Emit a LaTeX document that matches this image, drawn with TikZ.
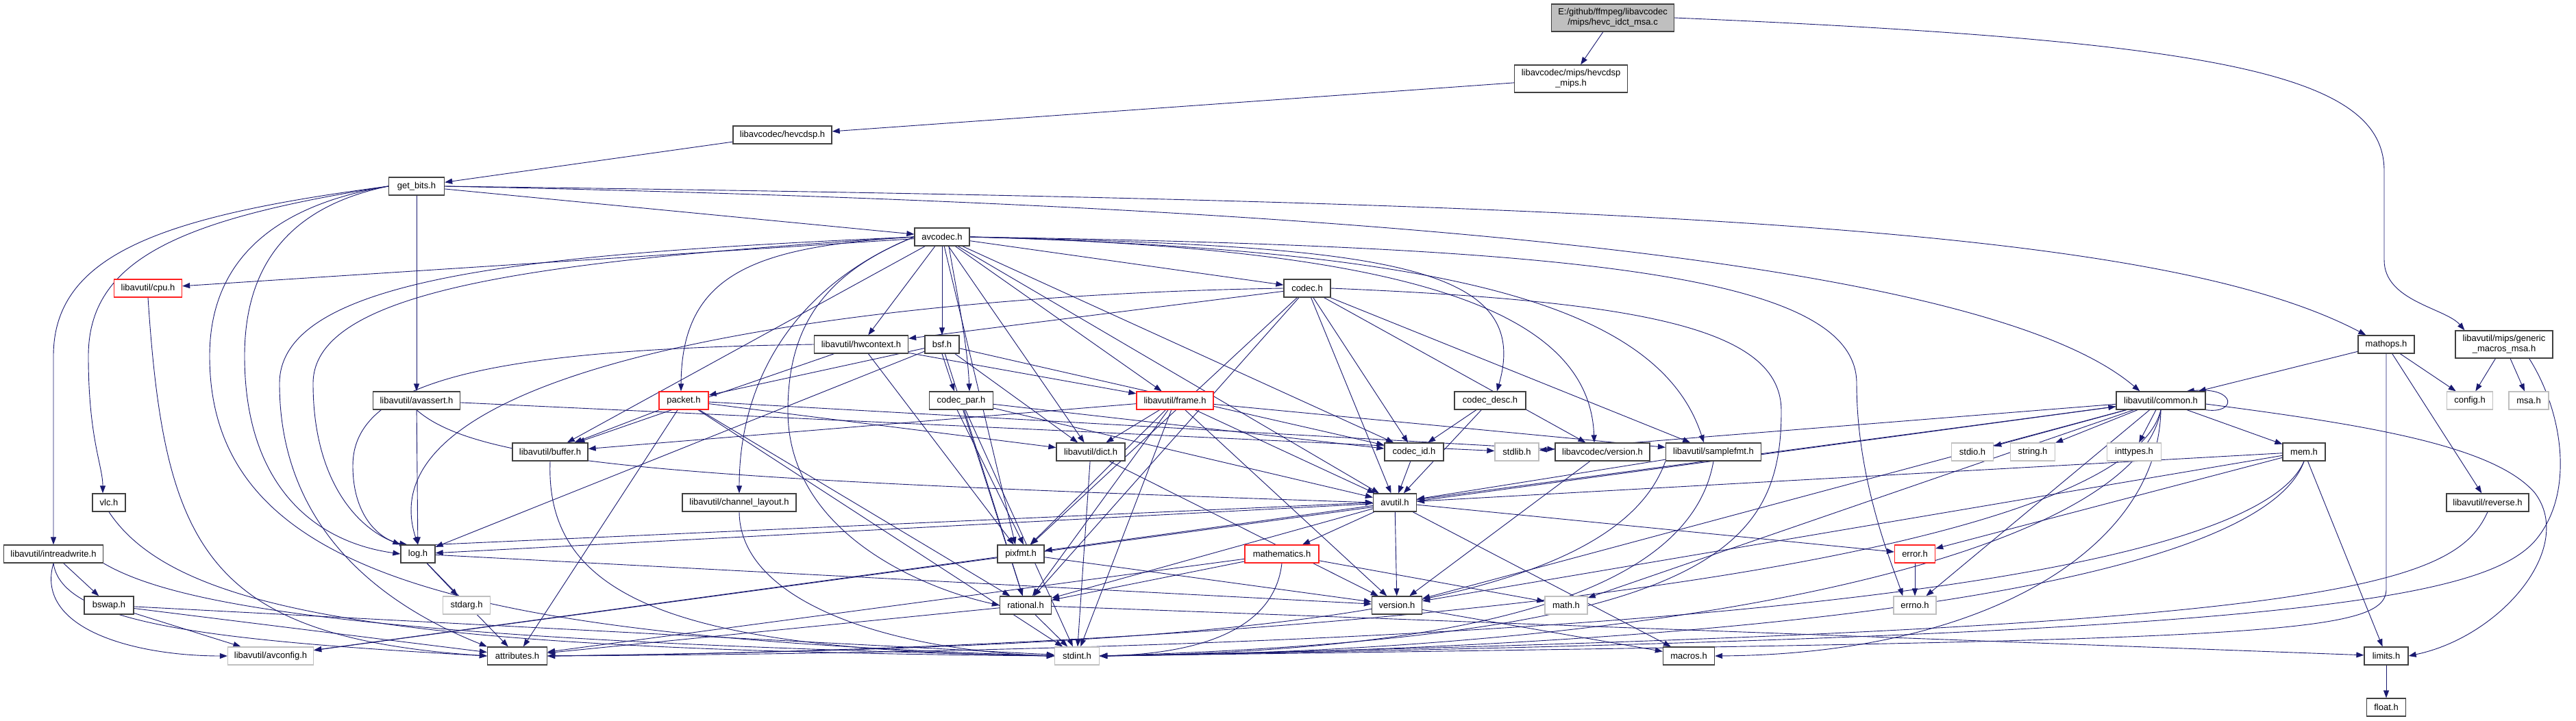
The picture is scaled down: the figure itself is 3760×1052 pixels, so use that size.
\documentclass[tikz,border=0pt]{standalone}
\usepackage{fontspec}
\setmainfont{Liberation Sans}
\usetikzlibrary{arrows.meta,backgrounds}
\definecolor{eblue}{HTML}{191970}
\definecolor{nbord}{HTML}{404040}
\definecolor{ngray}{HTML}{BFBFBF}
\definecolor{nred}{HTML}{FF2020}
\begin{document}
\begin{tikzpicture}[x=1pt,y=-1pt,
 nd/.style={draw=nbord, line width=1.3pt, fill=white, minimum height=26pt, inner sep=0pt, font=\fontsize{13pt}{15pt}\selectfont, align=center},
 nb/.style={nd},
 nr/.style={nd, draw=nred},
 ng/.style={nd, draw=ngray},
 nm/.style={nd, fill=ngray, minimum height=40pt},
 ed/.style={draw=eblue, line width=0.9pt, -{Triangle[length=11pt,width=8pt]}},
]
\useasboundingbox (0,0) rectangle (3760,1052);
% nodes
\node[nm, minimum width=179pt] (main) at (2354,26) {E:/github/ffmpeg/libavcodec\\/mips/hevc\_idct\_msa.c};
\node[nb, minimum width=165pt, minimum height=40pt] (hevcmips) at (2293,115) {libavcodec/mips/hevcdsp\\\_mips.h};
\node[nb, minimum width=144pt] (hevcdsp) at (1142,197) {libavcodec/hevcdsp.h};
\node[nb, minimum width=81pt] (getbits) at (608,272) {get\_bits.h};
\node[nb, minimum width=80pt] (avcodec) at (1375,346) {avcodec.h};
\node[nr, minimum width=99pt] (cpu) at (216,421) {libavutil/cpu.h};
\node[nb, minimum width=68pt] (codec) at (1908,421) {codec.h};
\node[nb, minimum width=137pt] (hwcontext) at (1257,503) {libavutil/hwcontext.h};
\node[nb, minimum width=50pt] (bsf) at (1375,503) {bsf.h};
\node[nb, minimum width=82pt] (mathops) at (3483,503) {mathops.h};
\node[nb, minimum width=142pt, minimum height=40pt] (gmsa) at (3655,503) {libavutil/mips/generic\\\_macros\_msa.h};
\node[nb, minimum width=127pt] (avassert) at (608,585) {libavutil/avassert.h};
\node[nr, minimum width=72pt] (packet) at (998,585) {packet.h};
\node[nb, minimum width=93pt] (codecpar) at (1403,585) {codec\_par.h};
\node[nr, minimum width=112pt] (frame) at (1715,585) {libavutil/frame.h};
\node[nb, minimum width=104pt] (codecdesc) at (2175,585) {codec\_desc.h};
\node[nb, minimum width=130pt] (common) at (3154,585) {libavutil/common.h};
\node[ng, minimum width=67pt] (config) at (3605,585) {config.h};
\node[ng, minimum width=58pt] (msa) at (3691,585) {msa.h};
\node[nb, minimum width=110pt] (buffer) at (803,660) {libavutil/buffer.h};
\node[nb, minimum width=100pt] (dict) at (1592,660) {libavutil/dict.h};
\node[nb, minimum width=86pt] (codecid) at (2064,660) {codec\_id.h};
\node[ng, minimum width=64pt] (stdlib) at (2214,660) {stdlib.h};
\node[nb, minimum width=138pt] (lavcversion) at (2339,660) {libavcodec/version.h};
\node[nb, minimum width=139pt] (samplefmt) at (2501,660) {libavutil/samplefmt.h};
\node[ng, minimum width=61pt] (stdio) at (2879,660) {stdio.h};
\node[ng, minimum width=65pt] (string) at (2967,660) {string.h};
\node[ng, minimum width=79pt] (inttypes) at (3115,660) {inttypes.h};
\node[nb, minimum width=62pt] (mem) at (3363,660) {mem.h};
\node[nb, minimum width=48pt] (vlc) at (159,734) {vlc.h};
\node[nb, minimum width=166pt] (channel) at (1079,734) {libavutil/channel\_layout.h};
\node[nb, minimum width=63pt] (avutil) at (2036,734) {avutil.h};
\node[nb, minimum width=120pt] (reverse) at (3631,734) {libavutil/reverse.h};
\node[nb, minimum width=145pt] (intreadwrite) at (78,809) {libavutil/intreadwrite.h};
\node[nb, minimum width=50pt] (log) at (610,809) {log.h};
\node[nb, minimum width=68pt] (pixfmt) at (1490,809) {pixfmt.h};
\node[nr, minimum width=108pt] (mathematics) at (1871,809) {mathematics.h};
\node[nr, minimum width=59pt] (error) at (2795,809) {error.h};
\node[nb, minimum width=72pt] (bswap) at (159,884) {bswap.h};
\node[ng, minimum width=69pt] (stdarg) at (681,884) {stdarg.h};
\node[nb, minimum width=75pt] (rational) at (1497,884) {rational.h};
\node[nb, minimum width=73pt] (version) at (2039,884) {version.h};
\node[ng, minimum width=62pt] (math) at (2286,884) {math.h};
\node[ng, minimum width=62pt] (errno) at (2795,884) {errno.h};
\node[ng, minimum width=125pt] (avconfig) at (395,958) {libavutil/avconfig.h};
\node[nb, minimum width=87pt] (attributes) at (755,958) {attributes.h};
\node[ng, minimum width=65pt] (stdint) at (1572,958) {stdint.h};
\node[nb, minimum width=75pt] (macros) at (2465,958) {macros.h};
\node[nb, minimum width=64pt] (limits) at (3483,958) {limits.h};
\node[nb, minimum width=57pt] (float) at (3483,1033) {float.h};

\begin{scope}[on background layer]
\fill[white] (0,0) rectangle (3760,1052);
% top
\draw[ed] (main) -- (hevcmips);
\draw[ed] (main.east) .. controls (3250,60) and (3480,110) .. (3480,250) -- (3480,380) .. controls (3480,440) and (3570,450) .. ([xshift=14pt]gmsa.north west);
\draw[ed] (hevcmips) -- (hevcdsp);
\draw[ed] (hevcdsp) -- (getbits);
% get_bits
\draw[ed] (getbits) -- (avcodec);
\draw[ed] (getbits.east) .. controls (2000,300) and (2900,380) .. ([xshift=35pt]common.north west);
\draw[ed] (getbits.east) .. controls (2400,295) and (3150,330) .. ([xshift=12pt]mathops.north west);
\draw[ed] (getbits) -- (avassert);
\draw[ed] (getbits.west) .. controls (260,320) and (129,380) .. (129,520) .. controls (129,640) and (150,680) .. ([xshift=-9pt]vlc.north);
\draw[ed] (getbits.west) .. controls (240,315) and (78,370) .. (78,520) -- (intreadwrite.north);
\draw[ed] (getbits.west) .. controls (400,300) and (306,380) .. (306,520) .. controls (306,850) and (700,930) .. (stdint.west);
\draw[ed] (getbits.west) .. controls (430,300) and (357,380) .. (357,520) .. controls (357,700) and (450,790) .. (log.west);
% avcodec
\draw[ed] (avcodec) -- (cpu);
\draw[ed] (avcodec.west) .. controls (800,380) and (457,420) .. (457,560) .. controls (457,700) and (520,770) .. (log.north west);
\draw[ed] (avcodec.west) .. controls (800,370) and (408,400) .. (408,560) .. controls (408,800) and (600,900) .. (attributes.north west);
\draw[ed] (avcodec) -- (buffer);
\draw[ed] (avcodec.west) .. controls (1170,412) and (1079,545) .. (channel.north);
\draw[ed] (avcodec.west) .. controls (1200,400) and (1150,480) .. (1150,600) .. controls (1150,780) and (1350,860) .. (rational.west);
\draw[ed] (avcodec) -- ([xshift=-8pt]pixfmt.north);
\draw[ed] (avcodec.east) .. controls (2300,360) and (2710,400) .. (2710,560) .. controls (2710,700) and (2760,820) .. ([xshift=14pt]errno.north west);
\draw[ed] (avcodec.east) .. controls (2000,360) and (2240,380) .. ([xshift=10pt]codecdesc.north);
\draw[ed] (avcodec.east) .. controls (2050,362) and (2320,450) .. ([xshift=-12pt]lavcversion.north);
\draw[ed] (avcodec.east) .. controls (2100,365) and (2420,440) .. ([xshift=-14pt]samplefmt.north);
\draw[ed] (avcodec) -- (avutil);
\draw[ed] (avcodec) -- (codec);
\draw[ed] (avcodec) -- (hwcontext);
\draw[ed] (avcodec) -- (bsf);
\draw[ed] ([xshift=10pt]avcodec.south) .. controls (1395,420) and (1412,500) .. ([xshift=12pt]codecpar.north);
\draw[ed] (avcodec) -- (dict);
\draw[ed] (avcodec) -- (frame);
\draw[ed] (avcodec.west) .. controls (1100,360) and (995,400) .. ([xshift=-4pt]packet.north);
\draw[ed] (avcodec) -- (codecid);
% codec
\draw[ed] (codec.east) .. controls (2400,440) and (2600,480) .. (2600,600) .. controls (2600,800) and (2500,930) .. (stdint.east);
\draw[ed] (codec) -- (avutil);
\draw[ed] (codec) -- (hwcontext);
\draw[ed] (codec.west) .. controls (1300,430) and (520,520) .. (log.north);
\draw[ed] (codec) -- (pixfmt);
\draw[ed] (codec) -- (rational);
\draw[ed] (codec) -- (samplefmt);
\draw[ed] (codec) -- (codecid);
\draw[ed] (codec) -- (lavcversion);
% codec_desc, codec_id
\draw[ed] (codecdesc) -- (avutil);
\draw[ed] (codecdesc) -- (codecid);
\draw[ed] (codecid) -- (avutil);
% codec_par
\draw[ed] (codecpar) -- (stdint);
\draw[ed] (codecpar) -- (avutil);
\draw[ed] (codecpar) -- (rational);
\draw[ed] ([xshift=-6pt]codecpar.south) -- ([xshift=4pt]pixfmt.north);
\draw[ed] (codecpar) -- (codecid);
% bsf
\draw[ed] (bsf) -- (dict);
\draw[ed] (bsf) -- (log);
\draw[ed] (bsf) -- (rational);
\draw[ed] (bsf) -- (codecid);
\draw[ed] (bsf.south) -- ([xshift=-10pt]codecpar.north);
\draw[ed] (bsf) -- (packet);
% packet
\draw[ed] (packet) -- (stdint);
\draw[ed] (packet) -- (attributes);
\draw[ed] (packet) -- (buffer);
\draw[ed] (packet) -- (dict);
\draw[ed] (packet) -- (rational);
\draw[ed] (packet) -- (lavcversion);
% hwcontext
\draw[ed] (hwcontext) -- (buffer);
\draw[ed] (hwcontext) -- (frame);
\draw[ed] (hwcontext.west) .. controls (700,510) and (515,560) .. (515,680) .. controls (515,760) and (560,790) .. ([xshift=10pt]log.north west);
\draw[ed] (hwcontext) -- (pixfmt);
% frame
\draw[ed] (frame) -- (stdint);
\draw[ed] (frame) -- (avutil);
\draw[ed] (frame) -- (buffer);
\draw[ed] (frame) -- (dict);
\draw[ed] (frame) -- (rational);
\draw[ed] (frame) -- (samplefmt);
\draw[ed] (frame) -- (pixfmt);
\draw[ed] (frame) -- (version);
% dict, buffer
\draw[ed] (dict) -- (stdint);
\draw[ed] (dict) -- (version);
\draw[ed] (buffer.south) .. controls (795,880) and (1000,950) .. (stdint.west);
% samplefmt
\draw[ed] (samplefmt.south) .. controls (2470,850) and (2200,950) .. (stdint.east);
\draw[ed] (samplefmt) -- (avutil);
\draw[ed] (samplefmt.south west) .. controls (2350,900) and (1800,945) .. (attributes.east);
% channel, cpu
\draw[ed] (channel.south) .. controls (1080,880) and (1300,950) .. (stdint.west);
\draw[ed] (cpu.south) .. controls (240,800) and (300,930) .. (attributes.west);
% avassert
\draw[ed] (avassert) -- (stdlib);
\draw[ed] (avassert.south) .. controls (700,680) and (1000,700) .. (avutil.west);
\draw[ed] (avassert) -- (log);
% misc
\draw[ed] (lavcversion) -- (version);
\draw[ed] (vlc.south) .. controls (260,900) and (600,950) .. (stdint.west);
\draw[ed] (intreadwrite.south) .. controls (50,920) and (200,958) .. (avconfig.west);
\draw[ed] (intreadwrite.south) .. controls (90,910) and (300,935) .. (attributes.west);
\draw[ed] (intreadwrite) -- (bswap);
\draw[ed] (intreadwrite.south east) .. controls (250,880) and (500,935) .. (stdint.west);
\draw[ed] (bswap) -- (stdint);
\draw[ed] (bswap) -- (avconfig);
\draw[ed] (bswap) -- (attributes);
% log
\draw[ed] (log) -- (stdarg);
\draw[ed] (log) -- (attributes);
\draw[ed] (log.north east) -- (avutil.west);
\draw[ed] (log) -- (version);
% avutil
\draw[ed] (avutil) -- (common);
\draw[ed] (avutil) -- (error);
\draw[ed] (avutil) -- (rational);
\draw[ed] (avutil) -- (version);
\draw[ed] (avutil) -- (macros);
\draw[ed] (avutil) -- (mathematics);
\draw[ed] (avutil) -- (log);
\draw[ed] (avutil) -- (pixfmt);
% mathematics
\draw[ed] (mathematics.south) .. controls (1860,920) and (1750,955) .. (stdint.east);
\draw[ed] (mathematics) -- (math);
\draw[ed] (mathematics) -- (attributes);
\draw[ed] (mathematics) -- (rational);
% pixfmt, rational, version
\draw[ed] (pixfmt) -- (avconfig);
\draw[ed] (pixfmt) -- (version);
\draw[ed] (rational) -- (stdint);
\draw[ed] (rational) -- (limits);
\draw[ed] (rational) -- (attributes);
\draw[ed] (version) -- (macros);
% common
\draw[ed] (common) -- (errno);
\draw[ed] (common) -- (inttypes);
\draw[ed] ([yshift=-5pt]common.east) .. controls (3450,620) and (3640,650) .. (3700,720) .. controls (3760,800) and (3650,930) .. (limits.east);
\draw[ed] (common) -- (math);
\draw[ed] (common.south) .. controls (3120,800) and (2500,950) .. (stdint.east);
\draw[ed] (common) -- (stdio);
\draw[ed] (common) -- (stdlib);
\draw[ed] (common) -- (string);
\draw[ed] (common.south) .. controls (3100,820) and (2000,945) .. (attributes.east);
\draw[ed] (common.south) .. controls (3150,800) and (2900,955) .. (macros.east);
\draw[ed] (common) -- (version);
\draw[ed] (common) -- (avconfig);
\draw[ed] (common) -- (mem);
\draw[ed] (common.south east) .. controls (3265,605) and (3265,565) .. ([xshift=-28pt]common.north east);
% mem
\draw[ed] (mem) -- (avutil);
\draw[ed] (mem) -- (limits);
\draw[ed] (mem.south) .. controls (3300,850) and (2600,945) .. (stdint.east);
\draw[ed] (mem.south) .. controls (3280,870) and (2200,950) .. (attributes.east);
\draw[ed] (mem) -- (error);
\draw[ed] (mem) -- (version);
\draw[ed] (error) -- (errno);
% mathops, gmsa, reverse
\draw[ed] (mathops) -- (common);
\draw[ed] (mathops) -- (config);
\draw[ed] (mathops) -- (reverse);
\draw[ed] (mathops.south) -- (3483,860) .. controls (3483,930) and (3300,935) .. (stdint.east);
\draw[ed] (gmsa) -- (config);
\draw[ed] (gmsa) -- (msa);
\draw[ed] ([xshift=-35pt]gmsa.south east) .. controls (3740,600) and (3760,720) .. (3700,790) .. controls (3620,880) and (3300,930) .. (stdint.east);
\draw[ed] (reverse.south) .. controls (3580,860) and (3400,920) .. (stdint.east);
\draw[ed] (limits) -- (float);
\end{scope}
\end{tikzpicture}
\end{document}
